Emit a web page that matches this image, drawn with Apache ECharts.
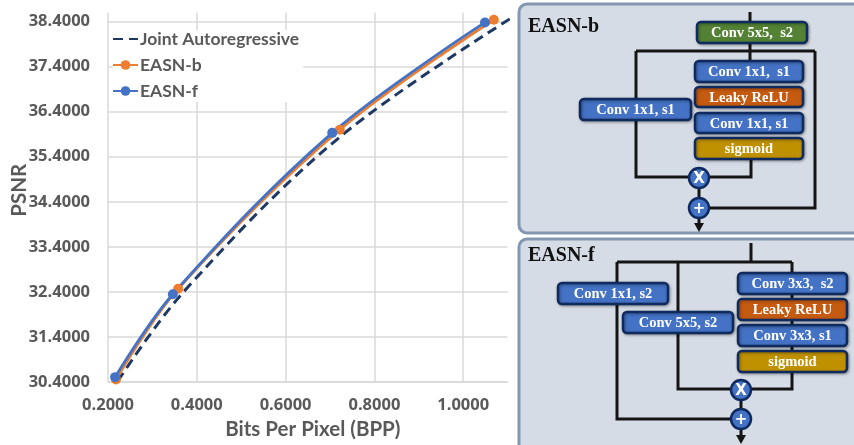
<!DOCTYPE html>
<html>
<head>
<meta charset="utf-8">
<script src="https://cdn.jsdelivr.net/npm/echarts@6/dist/echarts.min.js"></script>
<style>
  html, body { margin: 0; padding: 0; background: #fff; }
  #main { width: 854px; height: 445px; }
</style>
</head>
<body>
<div id="main"></div>
<script>
// rate-distortion points
const seriesNames = ['Joint Autoregressive', 'EASN-b', 'EASN-f'];
const bppJoint = [0.222, 0.37, 0.72, 1.12];
const psnrJoint = [30.42, 32.4, 35.82, 38.55];
const bppB = [0.218, 0.358, 0.722, 1.069];
const psnrB = [30.46, 32.47, 36.0, 38.44];
const bppF = [0.216, 0.346, 0.705, 1.049];
const psnrF = [30.51, 32.35, 35.93, 38.38];

const chart = echarts.init(document.getElementById('main'), null, { renderer: 'canvas' });

function pairs(xs, ys) {
  return xs.map(function (x, i) { return [x, ys[i]]; });
}

// ---- block diagram on the right (plain graphic elements) ----
const NAVY = '#0f2a5e';
const BLUE = '#4472c4';
const GREEN = '#548235';
const ORANGE = '#c55a11';
const GOLD = '#bf9000';
const INK = '#151515';

function panel(y, h) {
  return {
    type: 'rect', z: 1,
    shape: { x: 519, y: y, width: 350, height: h, r: 8 },
    style: { fill: '#d6dce5', stroke: '#8497b0', lineWidth: 3 }
  };
}
function title(x, y, txt) {
  return {
    type: 'text', z: 5,
    style: { x: x, y: y, text: txt, fill: '#111', font: 'bold 20px "Liberation Serif"', align: 'left', verticalAlign: 'middle' }
  };
}
function wire(points) {
  return {
    type: 'polyline', z: 2,
    shape: { points: points },
    style: { stroke: INK, lineWidth: 3, fill: null }
  };
}
function box(x, y, w, h, fill, label) {
  return {
    type: 'group', z: 3,
    children: [
      {
        type: 'rect', z: 3,
        shape: { x: x, y: y, width: w, height: h, r: 4 },
        style: { fill: fill, stroke: NAVY, lineWidth: 2.5, shadowBlur: 3, shadowOffsetX: 1, shadowOffsetY: 1, shadowColor: 'rgba(0,0,0,0.35)' }
      },
      {
        type: 'text', z: 4,
        style: { x: x + w / 2, y: y + h / 2 + 1, text: label, fill: '#fff', font: 'bold 14.5px "Liberation Serif"', align: 'center', verticalAlign: 'middle' }
      }
    ]
  };
}
function node(cx, cy, sym) {
  return {
    type: 'group', z: 3,
    children: [
      { type: 'circle', z: 3, shape: { cx: cx, cy: cy, r: 10 }, style: { fill: BLUE, stroke: NAVY, lineWidth: 2.5 } },
      { type: 'text', z: 4, style: { x: cx, y: cy + 1, text: sym, fill: '#fff', font: 'bold 15px "DejaVu Sans"', align: 'center', verticalAlign: 'middle' } }
    ]
  };
}
function arrow(x, y) {
  return { type: 'polygon', z: 3, shape: { points: [[x - 5, y - 9], [x + 5, y - 9], [x, y]] }, style: { fill: INK } };
}

const diagram = [
  panel(4, 229),
  panel(239, 220),
  title(528, 27, 'EASN-b'),
  title(528, 256, 'EASN-f'),

  // EASN-b wiring
  wire([[750, 12], [750, 62]]),
  wire([[636, 51], [815, 51]]),
  wire([[815, 51], [815, 208], [699, 208]]),
  wire([[636, 51], [636, 177], [699, 177]]),
  wire([[751, 150], [751, 177], [699, 177]]),
  wire([[699, 177], [699, 224]]),
  arrow(699, 232),
  box(697, 22, 110, 21, GREEN, 'Conv 5x5,  s2'),
  box(695, 61, 108, 21, BLUE, 'Conv 1x1,  s1'),
  box(695, 87, 108, 20, ORANGE, 'Leaky ReLU'),
  box(695, 113, 108, 20, BLUE, 'Conv 1x1, s1'),
  box(695, 138, 108, 21, GOLD, 'sigmoid'),
  box(580, 99, 111, 21, BLUE, 'Conv 1x1, s1'),
  node(699, 178, 'X'),
  node(699, 208, '+'),

  // EASN-f wiring
  wire([[751, 243], [751, 262]]),
  wire([[617, 262], [792, 262]]),
  wire([[617, 262], [617, 419], [741, 419]]),
  wire([[678, 262], [678, 389], [741, 389]]),
  wire([[792, 262], [792, 389], [741, 389]]),
  wire([[741, 389], [741, 436]]),
  arrow(741, 444),
  box(558, 283, 110, 21, BLUE, 'Conv 1x1, s2'),
  box(623, 312, 110, 21, BLUE, 'Conv 5x5, s2'),
  box(738, 273, 109, 21, BLUE, 'Conv 3x3,  s2'),
  box(738, 299, 109, 21, ORANGE, 'Leaky ReLU'),
  box(738, 325, 109, 21, BLUE, 'Conv 3x3, s1'),
  box(738, 351, 109, 21, GOLD, 'sigmoid'),
  node(741, 390, 'X'),
  node(741, 419, '+')
];

const GRID = '#d9d9d9';
const LABEL = '#595959';
const FONT = 'Lato';
const TICKFONT = 'Open Sans';
const CLEAR = 'rgba(0,0,0,0)';

const option = {
  backgroundColor: '#fff',
  animation: false,
  textStyle: { fontFamily: FONT },
  grid: { left: 108, right: 346.4, top: 12.5, bottom: 56.7 },
  legend: {
    orient: 'vertical',
    left: 112, top: 30,
    padding: [0, 4, 2, 0],
    itemWidth: 25, itemHeight: 12, itemGap: 8,
    backgroundColor: '#fff',
    textStyle: { fontFamily: FONT, fontWeight: 'bold', fontSize: 17.5, color: LABEL, padding: [0, 0, 0, -3] },
    data: [
      { name: seriesNames[0], itemStyle: { color: CLEAR, borderColor: CLEAR, borderWidth: 0 } },
      seriesNames[1],
      seriesNames[2]
    ]
  },
  xAxis: {
    type: 'value',
    min: 0.2, max: 1.1, interval: 0.2,
    name: 'Bits Per Pixel (BPP)',
    nameLocation: 'middle', nameGap: 34,
    nameTextStyle: { fontFamily: FONT, fontWeight: 'bold', fontSize: 20.5, color: LABEL, padding: [0, 0, 0, 10] },
    axisLine: { show: true, lineStyle: { color: GRID, width: 1.5 } },
    axisTick: { show: false },
    axisLabel: {
      showMaxLabel: false, margin: 15,
      fontFamily: TICKFONT, fontWeight: 'bold', fontSize: 16.5, color: LABEL,
      formatter: function (v) { return v.toFixed(4); }
    },
    splitLine: { show: true, lineStyle: { color: [GRID, GRID, GRID, GRID, GRID, CLEAR], width: 1.5 } }
  },
  yAxis: {
    type: 'value',
    min: 30.4, max: 38.6, interval: 1,
    name: 'PSNR',
    nameLocation: 'middle', nameGap: 78, nameRotate: 90,
    nameMoveOverlap: false,
    nameTextStyle: { fontFamily: FONT, fontWeight: 'bold', fontSize: 20.5, color: LABEL, padding: [0, 0, 0, 14] },
    axisLine: { show: false },
    axisTick: { show: false },
    axisLabel: {
      showMaxLabel: false, margin: 18,
      fontFamily: TICKFONT, fontWeight: 'bold', fontSize: 16.5, color: LABEL,
      formatter: function (v) { return v.toFixed(4); }
    },
    splitLine: { show: true, lineStyle: { color: [GRID, GRID, GRID, GRID, GRID, GRID, GRID, GRID, GRID, CLEAR], width: 1.5 } }
  },
  series: [
    {
      name: seriesNames[0], type: 'line', smooth: 0.35,
      data: pairs(bppJoint, psnrJoint),
      showSymbol: false, symbol: 'none',
      lineStyle: { color: '#203864', width: 3, type: [10, 6] },
      itemStyle: { color: '#203864' }
    },
    {
      name: seriesNames[1], type: 'line', smooth: 0.35,
      data: pairs(bppB, psnrB),
      symbol: 'circle', symbolSize: 10,
      lineStyle: { color: '#ed7d31', width: 2.8 },
      itemStyle: { color: '#ed7d31' }
    },
    {
      name: seriesNames[2], type: 'line', smooth: 0.35,
      data: pairs(bppF, psnrF),
      symbol: 'circle', symbolSize: 10,
      lineStyle: { color: '#4472c4', width: 2.8 },
      itemStyle: { color: '#4472c4' }
    }
  ],
  graphic: { elements: diagram }
};

chart.setOption(option);
</script>
</body>
</html>
